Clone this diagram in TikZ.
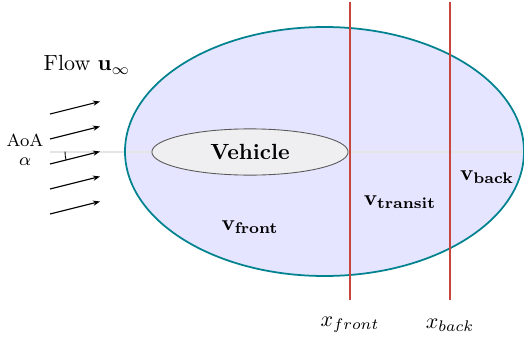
\documentclass[tikz,border=0pt]{standalone}
\usepackage{amsmath,amssymb,bm}
\usepackage{xcolor}
\usepackage{tikz}
\usetikzlibrary{arrows.meta,positioning,calc,shapes.geometric}

\definecolor{domainedge}{RGB}{0,131,143}
\definecolor{domainfill}{RGB}{229,229,255}
\definecolor{planered}{RGB}{200,70,62}

\begin{document}
\begin{tikzpicture}[
  x=0.016cm,y=-0.016cm,
  >=Latex,
  farfield/.style={draw=domainedge,line width=0.8pt},
  vehicle/.style={ellipse,draw=black!65,fill=black!6,fill opacity=0.92,text opacity=1,
    minimum width=3.14cm,minimum height=0.74cm,inner sep=0pt,font=\bfseries},
  plane/.style={draw=planered,line width=1pt},
  axisline/.style={draw=black!10,line width=0.5pt},
  flow/.style={-{Stealth[length=3.2pt,width=2.4pt]},line width=0.5pt},
  region/.style={font=\normalsize}
]
\useasboundingbox (0,0) rectangle (524,339);
% far-field domain
\fill[domainfill] (324.5,151.5) ellipse [x radius=199.5,y radius=124.5];
% reference axis
\coordinate (axl) at (50,152);
\coordinate (axr) at (524,152);
\draw[axisline] (axl) -- (axr);
\draw[farfield] (324.5,151.5) ellipse [x radius=199.5,y radius=124.5];
% vehicle
\node[vehicle] (veh) at (250,152) {Vehicle};
% control planes
\coordinate (ft) at (350,2);
\coordinate (fb) at (350,300);
\coordinate (bt) at (450,2);
\coordinate (bb) at (450,300);
\draw[plane] (ft) -- (fb);
\draw[plane] (bt) -- (bb);
\node (xf) at (350,325) {$x_{front}$};
\node (xb) at (450,325) {$x_{back}$};
% region labels
\node[region] (vf) at (250,227) {$\mathbf{v_{front}}$};
\node[region] (vt) at (400,202) {$\mathbf{v_{transit}}$};
\node[region] (vb) at (487,177) {$\mathbf{v_{back}}$};
% free stream
\node (fl) at (87,65) {Flow $\mathbf{u}_\infty$};
\foreach \i/\y in {1/114,2/139,3/164,4/189,5/214}{
  \coordinate (s\i) at (50,\y);
  \coordinate (e\i) at (100,\y-12.5);
  \draw[flow] (s\i) -- (e\i);
}
\draw[line width=0.4pt] (e3) ++(180:35) arc[start angle=180,end angle=166,radius=35];
\node[font=\footnotesize] (aoa) at (25,140) {AoA};
\node[font=\footnotesize] (al) at (25,162) {$\alpha$};
\end{tikzpicture}
\end{document}
